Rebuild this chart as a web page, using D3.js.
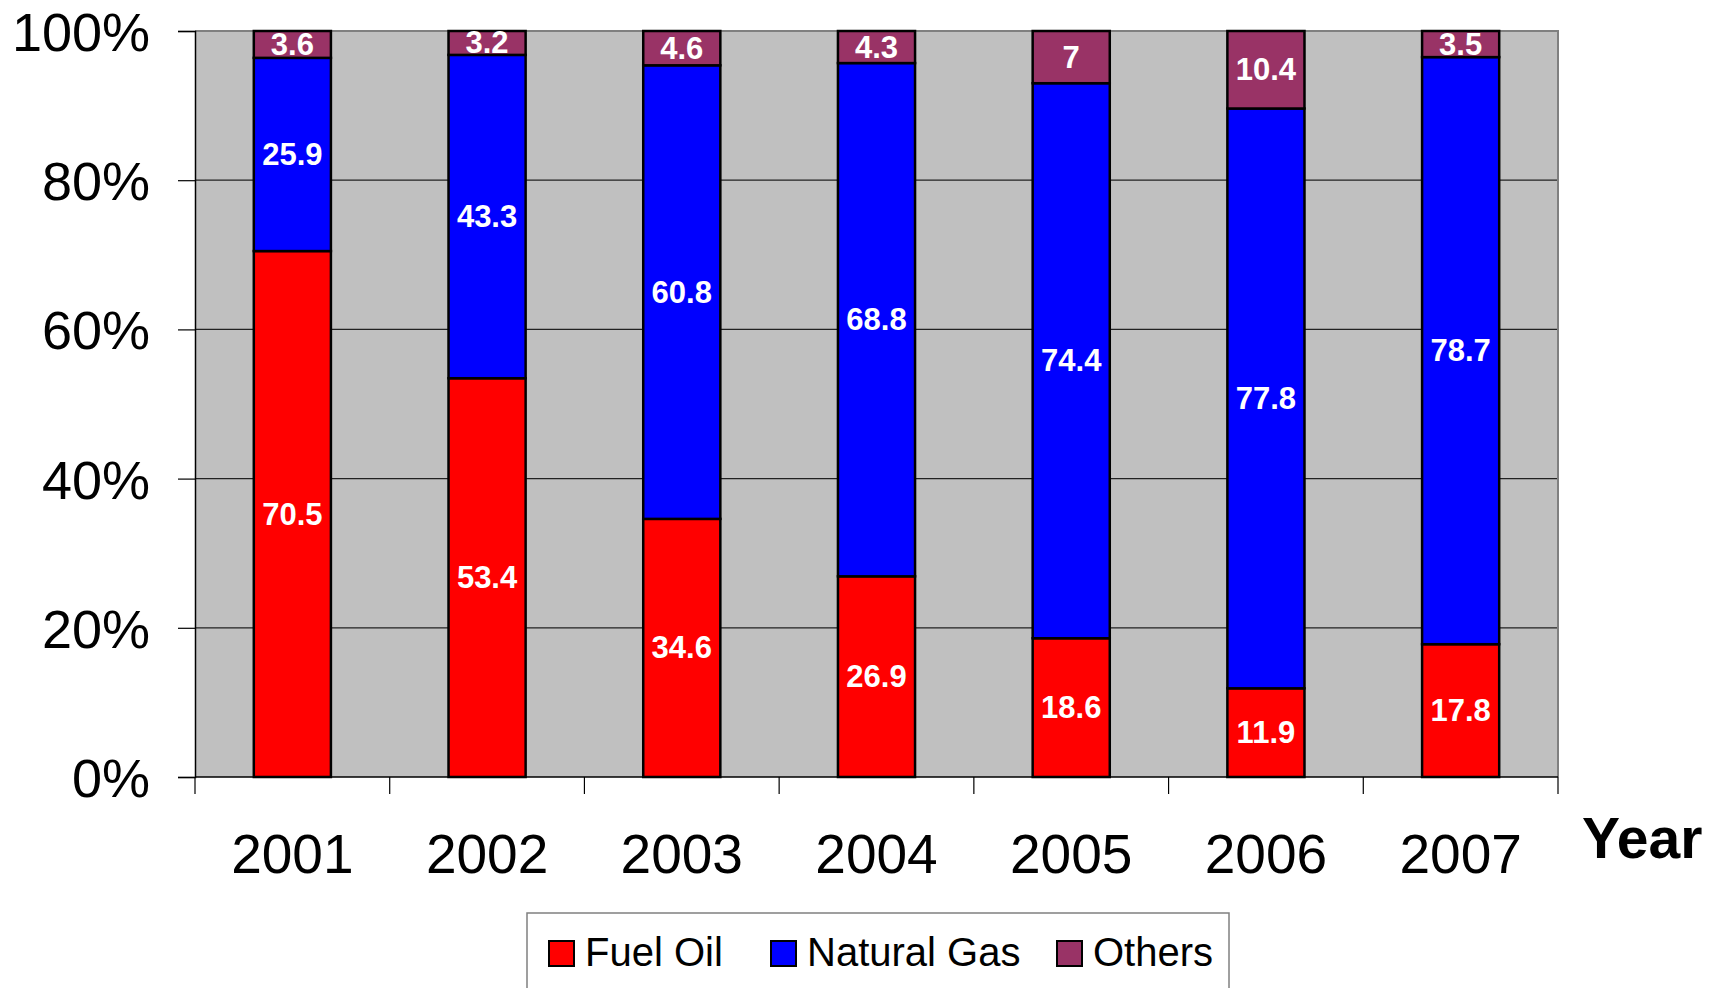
<!DOCTYPE html>
<html>
<head>
<meta charset="utf-8">
<script src="https://cdn.jsdelivr.net/npm/d3@7"></script>
<style>
  html, body { margin: 0; padding: 0; background: #fff; }
  svg { display: block; font-family: "Liberation Sans", Arial, sans-serif; }
</style>
</head>
<body>
<svg id="chart" width="1715" height="988"></svg>
<script>
// ---- data ----
const years = ["2001", "2002", "2003", "2004", "2005", "2006", "2007"];
const fuelOil = [70.5, 53.4, 34.6, 26.9, 18.6, 11.9, 17.8];
const naturalGas = [25.9, 43.3, 60.8, 68.8, 74.4, 77.8, 78.7];
const others = [3.6, 3.2, 4.6, 4.3, 7, 10.4, 3.5];
const seriesNames = ["Fuel Oil", "Natural Gas", "Others"];
const seriesColors = ["#FF0000", "#0000FF", "#993366"];
const yTicks = [0, 0.2, 0.4, 0.6, 0.8, 1.0];
const xAxisTitle = "Year";

// ---- layout ----
const plot = { left: 195, top: 31, right: 1558, bottom: 777 };
const font = '"Liberation Sans", Arial, sans-serif';

const svg = d3.select("#chart");

const rows = years.map((y, i) => ({
  year: y,
  "Fuel Oil": fuelOil[i],
  "Natural Gas": naturalGas[i],
  "Others": others[i]
}));

const stack = d3.stack().keys(seriesNames).offset(d3.stackOffsetExpand);
const stacked = stack(rows);

const x = d3.scaleBand()
  .domain(years)
  .range([plot.left, plot.right])
  .paddingInner(0.604)
  .paddingOuter(0.302);

const y = d3.scaleLinear().domain([0, 1]).range([plot.bottom, plot.top]);

const color = d3.scaleOrdinal().domain(seriesNames).range(seriesColors);

// plot background
svg.append("rect")
  .attr("x", plot.left).attr("y", plot.top)
  .attr("width", plot.right - plot.left)
  .attr("height", plot.bottom - plot.top)
  .attr("fill", "#C0C0C0");

// gridlines
svg.append("g")
  .selectAll("line")
  .data(yTicks.filter(t => t > 0 && t < 1))
  .join("line")
  .attr("x1", plot.left).attr("x2", plot.right)
  .attr("y1", d => y(d)).attr("y2", d => y(d))
  .attr("stroke", "#222").attr("stroke-width", 1.2);

// plot border top / right (gray)
svg.append("path")
  .attr("d", `M${plot.left},${plot.top}H${plot.right}V${plot.bottom}`)
  .attr("fill", "none").attr("stroke", "#808080").attr("stroke-width", 2);

// bars
const layers = svg.append("g")
  .selectAll("g")
  .data(stacked)
  .join("g")
  .attr("fill", d => color(d.key));

layers.selectAll("rect")
  .data(d => d)
  .join("rect")
  .attr("x", d => x(d.data.year))
  .attr("width", x.bandwidth())
  .attr("y", d => y(d[1]))
  .attr("height", d => y(d[0]) - y(d[1]))
  .attr("stroke", "#000")
  .attr("stroke-width", 2.5);

// data labels
const labels = svg.append("g");
stacked.forEach(layer => {
  labels.selectAll(null)
    .data(layer)
    .join("text")
    .attr("x", d => x(d.data.year) + x.bandwidth() / 2)
    .attr("y", d => (y(d[0]) + y(d[1])) / 2)
    .attr("text-anchor", "middle")
    .attr("dominant-baseline", "central")
    .attr("fill", "#fff")
    .attr("font-weight", "bold")
    .attr("font-size", 31)
    .text(d => d.data[layer.key]);
});

// y axis
const yAxis = d3.axisLeft(y)
  .tickValues(yTicks)
  .tickFormat(d3.format(".0%"))
  .tickSize(17)
  .tickPadding(28);

const yg = svg.append("g")
  .attr("transform", `translate(${plot.left},0)`)
  .call(yAxis);
yg.select(".domain").attr("stroke", "#000").attr("stroke-width", 1.5);
yg.selectAll(".tick line").attr("stroke", "#000").attr("stroke-width", 1.2);
yg.selectAll(".tick text")
  .attr("font-family", font)
  .attr("font-size", 54)
  .attr("fill", "#000")
  .attr("dy", "0.36em");

// x axis baseline
svg.append("line")
  .attr("x1", plot.left).attr("x2", plot.right)
  .attr("y1", plot.bottom).attr("y2", plot.bottom)
  .attr("stroke", "#000").attr("stroke-width", 1.5);

// x ticks at band boundaries
const edges = years.map(d => x(d) - (x.step() - x.bandwidth()) / 2).concat([plot.right]);
svg.append("g")
  .selectAll("line")
  .data(edges)
  .join("line")
  .attr("x1", d => d).attr("x2", d => d)
  .attr("y1", plot.bottom).attr("y2", plot.bottom + 17)
  .attr("stroke", "#000").attr("stroke-width", 1.2);

// x labels
svg.append("g")
  .selectAll("text")
  .data(years)
  .join("text")
  .attr("x", d => x(d) + x.bandwidth() / 2)
  .attr("y", 873)
  .attr("text-anchor", "middle")
  .attr("font-size", 55)
  .attr("fill", "#000")
  .text(d => d);

// axis title
svg.append("text")
  .attr("x", 1582).attr("y", 858)
  .attr("font-size", 57)
  .attr("font-weight", "bold")
  .attr("fill", "#000")
  .text(xAxisTitle);

// legend
const legend = svg.append("g");
legend.append("rect")
  .attr("x", 527).attr("y", 913)
  .attr("width", 702).attr("height", 120)
  .attr("fill", "#fff")
  .attr("stroke", "#808080").attr("stroke-width", 1.5);

const legendOffsets = [549, 771, 1057];
const li = legend.selectAll("g.item")
  .data(seriesNames)
  .join("g")
  .attr("class", "item")
  .attr("transform", (d, i) => `translate(${legendOffsets[i]},941)`);
li.append("rect")
  .attr("width", 25).attr("height", 25)
  .attr("fill", d => color(d))
  .attr("stroke", "#000").attr("stroke-width", 2);
li.append("text")
  .attr("x", 36).attr("y", 25)
  .attr("font-size", 40)
  .attr("fill", "#000")
  .text(d => d);
</script>
</body>
</html>
